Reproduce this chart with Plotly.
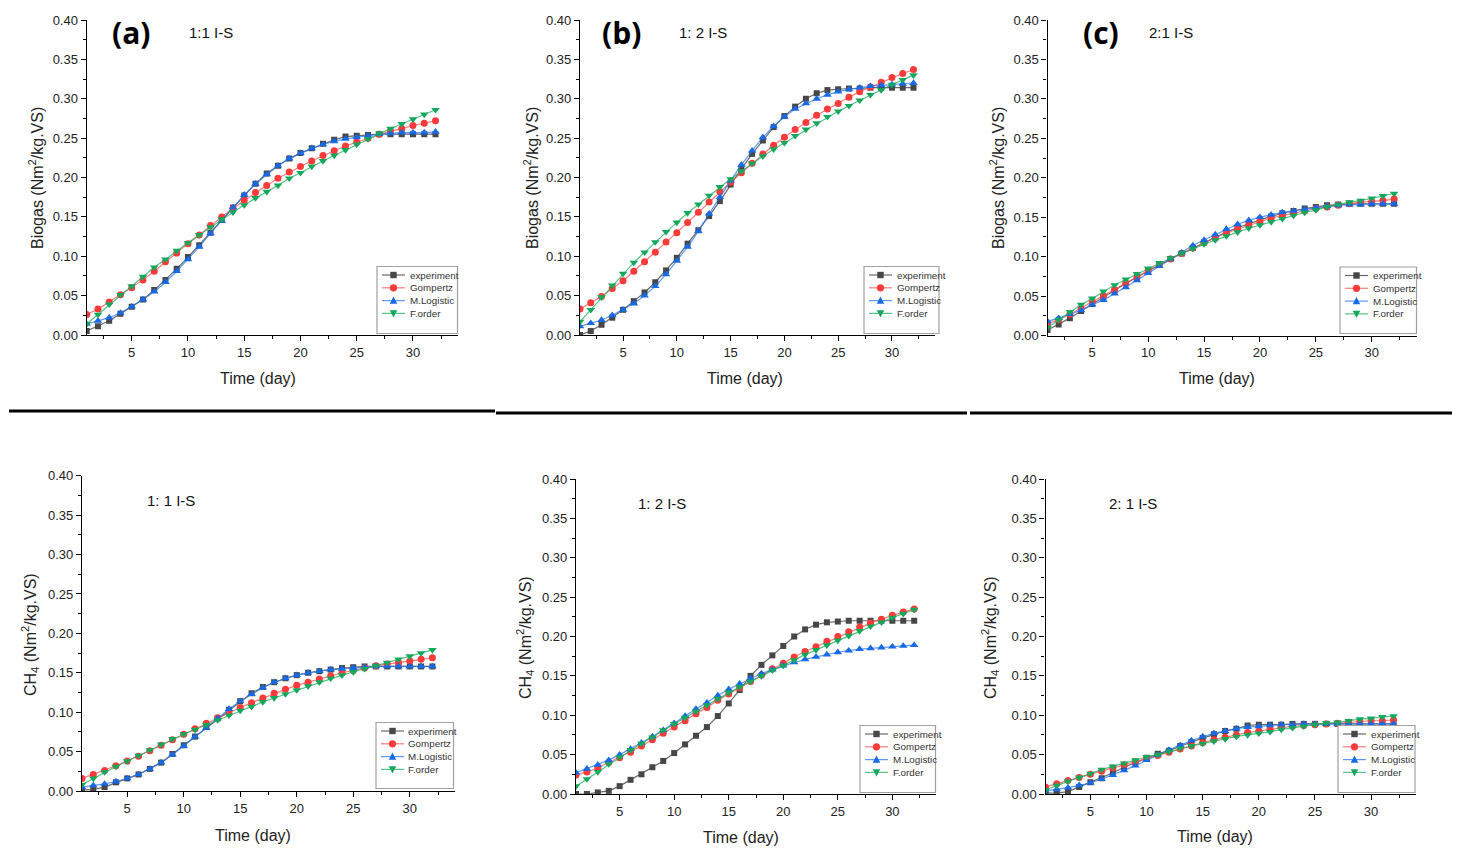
import plotly.graph_objects as go

W, H = 1460, 856

days = list(range(1, 33))
series_names = ["experiment", "Gompertz", "M.Logistic", "F.order"]

# ---- Biogas 1:1 I-S (a) ----
bio11_exp = [0.005, 0.011, 0.018, 0.027, 0.036, 0.045, 0.057, 0.070, 0.084, 0.099, 0.114, 0.130, 0.146, 0.162, 0.177, 0.192,
             0.205, 0.215, 0.224, 0.231, 0.237, 0.243, 0.248, 0.252, 0.253, 0.254, 0.255, 0.255, 0.255, 0.255, 0.255, 0.255]
bio11_gom = [0.026, 0.033, 0.042, 0.051, 0.060, 0.070, 0.081, 0.093, 0.104, 0.116, 0.127, 0.139, 0.150, 0.161, 0.171, 0.181,
             0.190, 0.199, 0.207, 0.214, 0.221, 0.228, 0.234, 0.240, 0.245, 0.250, 0.255, 0.259, 0.262, 0.266, 0.269, 0.272]
bio11_log = [0.014, 0.018, 0.022, 0.028, 0.036, 0.045, 0.055, 0.067, 0.081, 0.096, 0.112, 0.129, 0.145, 0.162, 0.178, 0.192,
             0.204, 0.215, 0.224, 0.231, 0.237, 0.242, 0.246, 0.249, 0.251, 0.253, 0.255, 0.256, 0.257, 0.257, 0.257, 0.258]
bio11_fo = [0.014, 0.026, 0.039, 0.051, 0.062, 0.074, 0.086, 0.096, 0.107, 0.117, 0.127, 0.137, 0.147, 0.156, 0.165, 0.174,
            0.182, 0.190, 0.199, 0.206, 0.214, 0.221, 0.228, 0.235, 0.242, 0.249, 0.256, 0.262, 0.268, 0.274, 0.280, 0.286]

# ---- Biogas 1:2 I-S (b) ----
bio12_exp = [0.000, 0.005, 0.013, 0.022, 0.032, 0.043, 0.054, 0.067, 0.082, 0.098, 0.116, 0.133, 0.151, 0.170, 0.191, 0.211,
             0.230, 0.247, 0.264, 0.278, 0.290, 0.300, 0.307, 0.311, 0.312, 0.313, 0.313, 0.314, 0.314, 0.314, 0.314, 0.314]
bio12_gom = [0.033, 0.041, 0.049, 0.059, 0.069, 0.081, 0.093, 0.105, 0.118, 0.130, 0.143, 0.156, 0.169, 0.182, 0.194, 0.206,
             0.218, 0.230, 0.241, 0.251, 0.261, 0.270, 0.279, 0.287, 0.294, 0.302, 0.309, 0.315, 0.321, 0.327, 0.332, 0.337]
bio12_log = [0.011, 0.015, 0.019, 0.025, 0.032, 0.040, 0.050, 0.062, 0.077, 0.094, 0.112, 0.132, 0.154, 0.175, 0.196, 0.216,
             0.234, 0.251, 0.265, 0.277, 0.287, 0.294, 0.300, 0.305, 0.309, 0.312, 0.314, 0.316, 0.317, 0.318, 0.319, 0.320]
bio12_fo = [0.017, 0.032, 0.048, 0.063, 0.078, 0.092, 0.105, 0.118, 0.131, 0.143, 0.155, 0.166, 0.177, 0.188, 0.198, 0.208,
            0.218, 0.227, 0.236, 0.244, 0.253, 0.261, 0.269, 0.277, 0.284, 0.291, 0.298, 0.305, 0.311, 0.318, 0.324, 0.330]

# ---- Biogas 2:1 I-S (c) ----
bio21_exp = [0.007, 0.014, 0.022, 0.031, 0.040, 0.049, 0.057, 0.066, 0.074, 0.082, 0.090, 0.097, 0.104, 0.111, 0.118, 0.124,
             0.131, 0.137, 0.142, 0.147, 0.151, 0.155, 0.158, 0.161, 0.163, 0.165, 0.166, 0.167, 0.167, 0.167, 0.167, 0.167]
bio21_gom = [0.015, 0.020, 0.027, 0.035, 0.043, 0.050, 0.058, 0.066, 0.074, 0.082, 0.090, 0.097, 0.104, 0.111, 0.118, 0.124,
             0.130, 0.135, 0.140, 0.145, 0.149, 0.152, 0.155, 0.158, 0.161, 0.163, 0.165, 0.167, 0.169, 0.170, 0.171, 0.173]
bio21_log = [0.018, 0.022, 0.027, 0.032, 0.039, 0.045, 0.053, 0.061, 0.070, 0.079, 0.088, 0.097, 0.105, 0.114, 0.121, 0.128,
             0.135, 0.141, 0.146, 0.150, 0.153, 0.156, 0.158, 0.160, 0.162, 0.164, 0.165, 0.166, 0.166, 0.167, 0.167, 0.167]
bio21_fo = [0.010, 0.020, 0.030, 0.039, 0.047, 0.056, 0.064, 0.071, 0.078, 0.085, 0.092, 0.098, 0.104, 0.110, 0.116, 0.121,
            0.126, 0.131, 0.136, 0.140, 0.144, 0.148, 0.152, 0.156, 0.159, 0.163, 0.166, 0.169, 0.171, 0.174, 0.177, 0.180]

# ---- CH4 1:1 I-S ----
ch411_exp = [0.001, 0.002, 0.005, 0.011, 0.016, 0.021, 0.028, 0.036, 0.047, 0.058, 0.069, 0.081, 0.092, 0.103, 0.114, 0.124,
             0.132, 0.138, 0.143, 0.147, 0.150, 0.152, 0.154, 0.156, 0.157, 0.158, 0.158, 0.158, 0.158, 0.158, 0.158, 0.158]
ch411_gom = [0.016, 0.021, 0.026, 0.032, 0.038, 0.044, 0.051, 0.058, 0.065, 0.072, 0.079, 0.086, 0.093, 0.099, 0.106, 0.112,
             0.118, 0.124, 0.129, 0.134, 0.138, 0.142, 0.146, 0.150, 0.153, 0.156, 0.159, 0.161, 0.163, 0.165, 0.167, 0.169]
ch411_log = [0.005, 0.007, 0.009, 0.012, 0.016, 0.021, 0.028, 0.036, 0.046, 0.057, 0.069, 0.080, 0.092, 0.104, 0.114, 0.123,
             0.131, 0.138, 0.143, 0.147, 0.150, 0.152, 0.154, 0.155, 0.156, 0.157, 0.158, 0.158, 0.158, 0.158, 0.158, 0.158]
ch411_fo = [0.008, 0.016, 0.024, 0.031, 0.038, 0.045, 0.052, 0.059, 0.066, 0.072, 0.078, 0.084, 0.090, 0.096, 0.102, 0.107,
            0.113, 0.118, 0.123, 0.128, 0.133, 0.138, 0.143, 0.147, 0.151, 0.155, 0.159, 0.163, 0.167, 0.171, 0.175, 0.179]

# ---- CH4 1:2 I-S ----
ch412_exp = [0.000, 0.000, 0.002, 0.004, 0.010, 0.018, 0.025, 0.034, 0.042, 0.052, 0.063, 0.074, 0.085, 0.099, 0.115, 0.132,
             0.150, 0.164, 0.176, 0.188, 0.200, 0.209, 0.215, 0.218, 0.219, 0.220, 0.220, 0.220, 0.220, 0.220, 0.220, 0.220]
ch412_gom = [0.024, 0.028, 0.033, 0.040, 0.046, 0.053, 0.061, 0.069, 0.077, 0.085, 0.093, 0.102, 0.110, 0.119, 0.127, 0.135,
             0.143, 0.151, 0.159, 0.166, 0.174, 0.181, 0.187, 0.194, 0.200, 0.206, 0.212, 0.217, 0.222, 0.227, 0.231, 0.235]
ch412_log = [0.027, 0.032, 0.037, 0.043, 0.050, 0.057, 0.065, 0.073, 0.081, 0.090, 0.099, 0.108, 0.116, 0.125, 0.133, 0.140,
             0.147, 0.153, 0.158, 0.163, 0.167, 0.171, 0.174, 0.177, 0.180, 0.182, 0.184, 0.185, 0.186, 0.187, 0.188, 0.189]
ch412_fo = [0.010, 0.019, 0.028, 0.038, 0.047, 0.056, 0.064, 0.072, 0.081, 0.089, 0.097, 0.105, 0.113, 0.121, 0.129, 0.136,
            0.143, 0.150, 0.157, 0.163, 0.170, 0.177, 0.183, 0.189, 0.195, 0.201, 0.207, 0.213, 0.218, 0.224, 0.229, 0.234]

# ---- CH4 2:1 I-S ----
ch421_exp = [0.001, 0.001, 0.003, 0.009, 0.015, 0.020, 0.027, 0.034, 0.040, 0.046, 0.051, 0.055, 0.061, 0.066, 0.071, 0.076,
             0.080, 0.083, 0.087, 0.088, 0.088, 0.088, 0.089, 0.089, 0.089, 0.089, 0.089, 0.089, 0.089, 0.089, 0.089, 0.089]
ch421_gom = [0.009, 0.013, 0.017, 0.021, 0.025, 0.029, 0.033, 0.037, 0.041, 0.045, 0.049, 0.053, 0.057, 0.061, 0.065, 0.069,
             0.072, 0.075, 0.078, 0.080, 0.082, 0.084, 0.086, 0.087, 0.088, 0.089, 0.090, 0.091, 0.092, 0.093, 0.093, 0.094]
ch421_log = [0.004, 0.006, 0.008, 0.011, 0.014, 0.019, 0.024, 0.030, 0.036, 0.043, 0.050, 0.056, 0.062, 0.068, 0.073, 0.077,
             0.080, 0.083, 0.085, 0.086, 0.087, 0.088, 0.088, 0.089, 0.089, 0.089, 0.089, 0.089, 0.089, 0.089, 0.089, 0.089]
ch421_fo = [0.005, 0.011, 0.016, 0.021, 0.026, 0.031, 0.035, 0.039, 0.043, 0.047, 0.050, 0.054, 0.058, 0.061, 0.064, 0.067,
            0.070, 0.073, 0.075, 0.077, 0.079, 0.082, 0.084, 0.086, 0.088, 0.090, 0.091, 0.093, 0.095, 0.096, 0.098, 0.099]

# ---------------- styling ----------------
marker_colors = ["#474747", "#fb3a3a", "#1769e6", "#14a85c"]
line_colors = ["rgba(80,80,80,0.85)", "rgba(251,80,80,0.75)", "rgba(40,120,235,0.75)", "rgba(30,175,95,0.75)"]
symbols = ["square", "circle", "triangle-up", "triangle-down"]
msizes = [6, 7, 7.5, 7.5]
FONT = "Liberation Sans, Arial, sans-serif"


def fx(px):
    return px / W


def fy(py):
    return 1 - py / H


# panels: (data, px box [x0, x1, y0, y1], ylabel, letter, letter pos, ratio text, ratio pos,
#          legend box (left, top, right, bottom), xtitle pos, ytitle pos)
panels = [
    ([bio11_exp, bio11_gom, bio11_log, bio11_fo], (86.7, 458, 20, 335), "Biogas (Nm<sup>2</sup>/kg.VS)",
     "(a)", (131, 32), "1:1 I-S", (211, 32), (377, 266.5, 457.5, 333.5), (258, 378), (36, 178)),
    ([bio12_exp, bio12_gom, bio12_log, bio12_fo], (580, 935, 20, 335), "Biogas (Nm<sup>2</sup>/kg.VS)",
     "(b)", (621, 32), "1: 2 I-S", (703, 32), (864, 266.5, 939, 333.5), (745, 378), (531, 178)),
    ([bio21_exp, bio21_gom, bio21_log, bio21_fo], (1047.5, 1416.5, 20, 335.5), "Biogas (Nm<sup>2</sup>/kg.VS)",
     "(c)", (1101, 32), "2:1 I-S", (1171, 32), (1340, 267, 1416.5, 333.5), (1217, 378), (997, 178)),
    ([ch411_exp, ch411_gom, ch411_log, ch411_fo], (82, 455, 475.7, 791), "CH<sub>4</sub> (Nm<sup>2</sup>/kg.VS)",
     None, None, "1: 1 I-S", (171, 500), (376, 722.5, 453.5, 788.5), (253, 835), (30, 635)),
    ([ch412_exp, ch412_gom, ch412_log, ch412_fo], (576, 936, 479, 794), "CH<sub>4</sub> (Nm<sup>2</sup>/kg.VS)",
     None, None, "1: 2 I-S", (662, 503), (860, 725.5, 935.5, 792.5), (741, 837), (525, 638)),
    ([ch421_exp, ch421_gom, ch421_log, ch421_fo], (1045.5, 1416, 479, 794), "CH<sub>4</sub> (Nm<sup>2</sup>/kg.VS)",
     None, None, "2: 1 I-S", (1133, 503), (1338, 725.5, 1415, 792.5), (1215, 836), (990, 638)),
]

fig = go.Figure()
annotations = []
shapes = []
layout_upd = {}


def glyph_shapes(k, cx, cy):
    """Legend key symbol drawn as a shape (in paper coordinates)."""
    col = marker_colors[k]
    if k == 0:
        s = 3.2
        return dict(type="rect", xref="paper", yref="paper", x0=fx(cx - s), x1=fx(cx + s), y0=fy(cy + s),
                    y1=fy(cy - s), fillcolor=col, line=dict(width=0))
    if k == 1:
        r = 3.6
        return dict(type="circle", xref="paper", yref="paper", x0=fx(cx - r), x1=fx(cx + r), y0=fy(cy + r),
                    y1=fy(cy - r), fillcolor=col, line=dict(width=0))
    s = 7.5
    if k == 2:
        pts = [(cx, cy - 0.55 * s), (cx - s / 2, cy + 0.42 * s), (cx + s / 2, cy + 0.42 * s)]
    else:
        pts = [(cx, cy + 0.55 * s), (cx - s / 2, cy - 0.42 * s), (cx + s / 2, cy - 0.42 * s)]
    path = "M {:.6f},{:.6f} L {:.6f},{:.6f} L {:.6f},{:.6f} Z".format(
        fx(pts[0][0]), fy(pts[0][1]), fx(pts[1][0]), fy(pts[1][1]), fx(pts[2][0]), fy(pts[2][1]))
    return dict(type="path", xref="paper", yref="paper", path=path, fillcolor=col, line=dict(width=0))


for i, (data, box, ylab, letter, lpos, ratio, rpos, lbox, xtpos, ytpos) in enumerate(panels):
    n = i + 1
    xa = "x" if n == 1 else f"x{n}"
    ya = "y" if n == 1 else f"y{n}"
    for k in range(4):
        fig.add_trace(go.Scatter(
            x=days, y=data[k], name=series_names[k], mode="lines+markers",
            xaxis=xa, yaxis=ya, showlegend=False,
            line=dict(color=line_colors[k], width=1.2),
            marker=dict(symbol=symbols[k], size=msizes[k], color=marker_colors[k], line=dict(width=0)),
        ))
    x0, x1, y0, y1 = box
    axcommon = dict(showline=True, linecolor="black", linewidth=1.3, ticks="outside", ticklen=5, tickwidth=1,
                    tickcolor="black", showgrid=False, zeroline=False, mirror=False, automargin=False,
                    tickfont=dict(family=FONT, size=13, color="#222"))
    xkey = "xaxis" if n == 1 else f"xaxis{n}"
    ykey = "yaxis" if n == 1 else f"yaxis{n}"
    layout_upd[xkey] = dict(axcommon, domain=[x0 / W, x1 / W], anchor=ya, range=[1, 34],
                            tick0=0, dtick=5,
                            minor=dict(ticks="outside", ticklen=3, tickcolor="black", tick0=0, dtick=2.5, showgrid=False))
    layout_upd[ykey] = dict(axcommon, domain=[1 - y1 / H, 1 - y0 / H], anchor=xa, range=[0, 0.40],
                            tick0=0, dtick=0.05, tickformat=".2f",
                            minor=dict(ticks="outside", ticklen=3, tickcolor="black", tick0=0, dtick=0.025, showgrid=False))

    # legend box (Origin style)
    L, T, R, B = lbox
    shapes.append(dict(type="rect", xref="paper", yref="paper", x0=fx(L), x1=fx(R), y0=fy(B), y1=fy(T),
                       fillcolor="white", line=dict(color="#a0a0a0", width=1.2), layer="above"))
    for k in range(4):
        cy = T + 8.5 + 12.8 * k
        shapes.append(dict(type="line", xref="paper", yref="paper", x0=fx(L + 5), x1=fx(L + 28),
                           y0=fy(cy), y1=fy(cy), line=dict(color=line_colors[k], width=1.2), layer="above"))
        g = glyph_shapes(k, L + 16.5, cy)
        g["layer"] = "above"
        shapes.append(g)
        annotations.append(dict(text=series_names[k], x=fx(L + 30.5), y=fy(cy), xref="paper", yref="paper",
                                showarrow=False, xanchor="left", yanchor="middle",
                                font=dict(family=FONT, size=9.8, color="#333")))

    annotations.append(dict(text="Time (day)", x=fx(xtpos[0]), y=fy(xtpos[1]), xref="paper", yref="paper",
                            showarrow=False, xanchor="center", yanchor="middle",
                            font=dict(family=FONT, size=16, color="#222")))
    annotations.append(dict(text=ylab, x=fx(ytpos[0]), y=fy(ytpos[1]), xref="paper", yref="paper",
                            showarrow=False, xanchor="center", yanchor="middle", textangle=-90,
                            font=dict(family=FONT, size=16, color="#222")))
    if letter:
        annotations.append(dict(text="<b>" + letter + "</b>", x=fx(lpos[0]), y=fy(lpos[1]), xref="paper",
                                yref="paper", showarrow=False, xanchor="center", yanchor="middle",
                                font=dict(family="Open Sans, Liberation Sans, sans-serif", size=30, color="black")))
    annotations.append(dict(text=ratio, x=fx(rpos[0]), y=fy(rpos[1]), xref="paper", yref="paper",
                            showarrow=False, xanchor="center", yanchor="middle",
                            font=dict(family=FONT, size=15, color="#111")))

# section separator rules
shapes += [
    dict(type="line", xref="paper", yref="paper", x0=fx(9), x1=fx(495), y0=fy(411), y1=fy(411),
         line=dict(color="black", width=3)),
    dict(type="line", xref="paper", yref="paper", x0=fx(496), x1=fx(967), y0=fy(413), y1=fy(413),
         line=dict(color="black", width=3)),
    dict(type="line", xref="paper", yref="paper", x0=fx(970), x1=fx(1452), y0=fy(413), y1=fy(413),
         line=dict(color="black", width=3)),
]

fig.update_layout(
    width=W, height=H, margin=dict(l=0, r=0, t=0, b=0, autoexpand=False),
    paper_bgcolor="white", plot_bgcolor="white",
    annotations=annotations, shapes=shapes, showlegend=False,
    **layout_upd,
)

fig.write_html("out.html")
